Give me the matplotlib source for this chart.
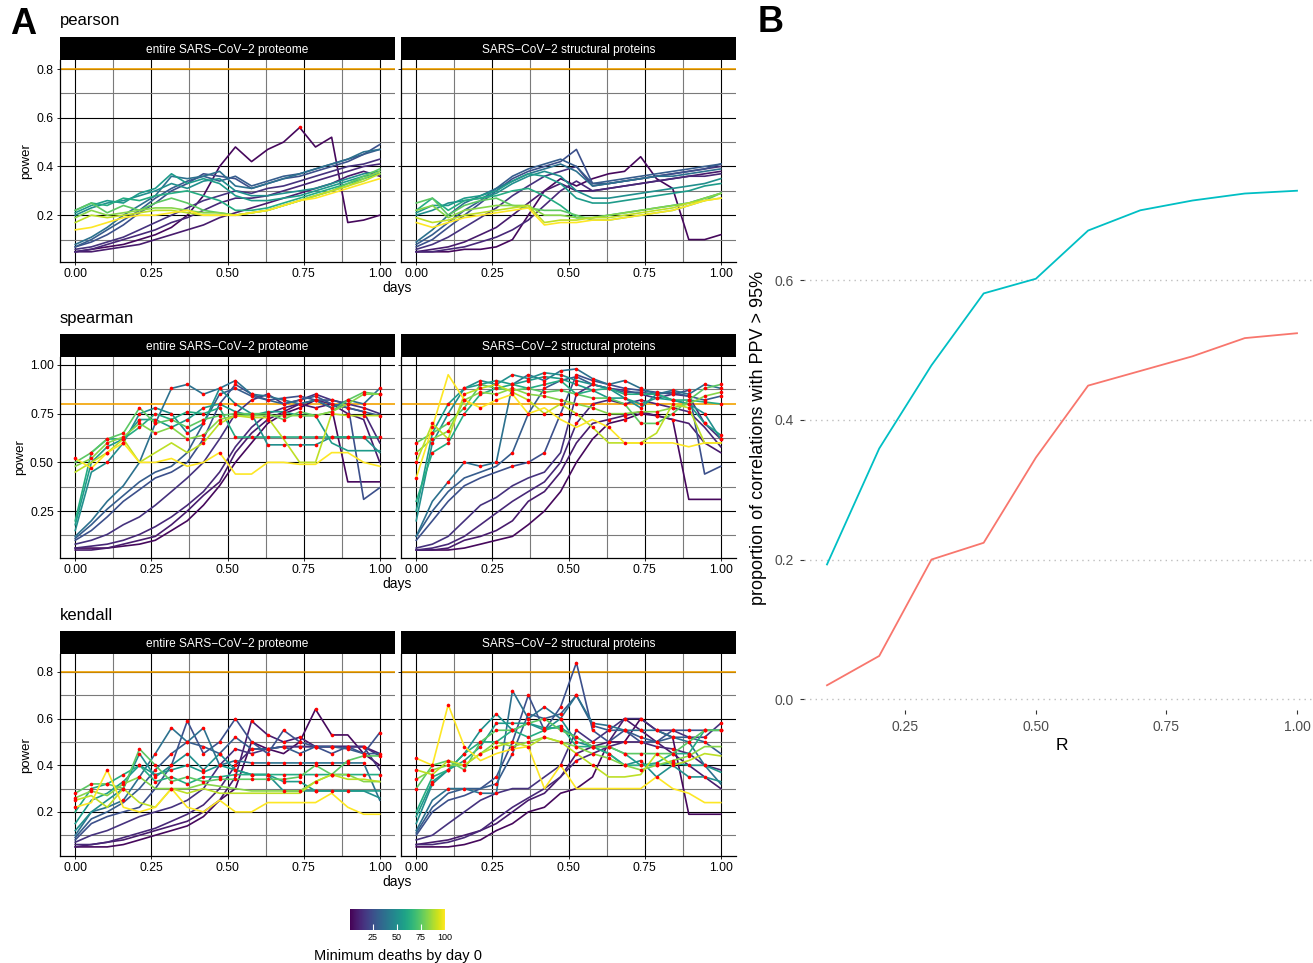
import numpy as np
import matplotlib.pyplot as plt
import matplotlib as mpl

plt.rcParams['font.family'] = ['Liberation Sans', 'DejaVu Sans']

W, H = 1313, 963

# ---------------- data ----------------
days = [0.00, 0.053, 0.105, 0.158, 0.211, 0.263, 0.316, 0.368, 0.421, 0.474,
        0.526, 0.579, 0.632, 0.684, 0.737, 0.789, 0.842, 0.895, 0.947, 1.00]
min_deaths = [3, 8, 12, 15, 25, 30, 38, 50, 55, 62, 75, 82, 90, 100]

pearson_all = [
    [0.05, 0.06, 0.07, 0.08, 0.10, 0.12, 0.15, 0.20, 0.28, 0.40, 0.48, 0.42, 0.47, 0.50, 0.56, 0.48, 0.52, 0.17, 0.18, 0.20],
    [0.05, 0.05, 0.06, 0.07, 0.08, 0.10, 0.12, 0.14, 0.16, 0.19, 0.21, 0.23, 0.25, 0.27, 0.29, 0.31, 0.33, 0.36, 0.38, 0.36],
    [0.05, 0.06, 0.08, 0.10, 0.12, 0.14, 0.17, 0.19, 0.22, 0.25, 0.27, 0.27, 0.28, 0.30, 0.32, 0.34, 0.36, 0.38, 0.40, 0.41],
    [0.06, 0.07, 0.09, 0.11, 0.14, 0.17, 0.20, 0.23, 0.26, 0.28, 0.30, 0.29, 0.31, 0.32, 0.34, 0.36, 0.38, 0.40, 0.41, 0.43],
    [0.07, 0.09, 0.12, 0.16, 0.21, 0.25, 0.30, 0.33, 0.37, 0.36, 0.35, 0.31, 0.33, 0.35, 0.36, 0.38, 0.40, 0.42, 0.45, 0.49],
    [0.07, 0.10, 0.14, 0.18, 0.22, 0.27, 0.31, 0.34, 0.36, 0.34, 0.36, 0.32, 0.34, 0.36, 0.37, 0.39, 0.41, 0.43, 0.45, 0.47],
    [0.08, 0.11, 0.15, 0.20, 0.24, 0.28, 0.36, 0.35, 0.36, 0.38, 0.32, 0.31, 0.33, 0.35, 0.37, 0.39, 0.41, 0.43, 0.46, 0.47],
    [0.20, 0.23, 0.25, 0.26, 0.28, 0.30, 0.33, 0.31, 0.34, 0.35, 0.30, 0.28, 0.28, 0.29, 0.30, 0.31, 0.33, 0.35, 0.37, 0.38],
    [0.21, 0.24, 0.26, 0.25, 0.29, 0.31, 0.37, 0.33, 0.35, 0.33, 0.28, 0.26, 0.26, 0.27, 0.28, 0.30, 0.32, 0.34, 0.36, 0.37],
    [0.22, 0.25, 0.24, 0.27, 0.26, 0.28, 0.29, 0.30, 0.28, 0.26, 0.22, 0.22, 0.23, 0.25, 0.27, 0.29, 0.31, 0.33, 0.35, 0.37],
    [0.22, 0.25, 0.21, 0.24, 0.22, 0.25, 0.27, 0.25, 0.22, 0.21, 0.20, 0.21, 0.22, 0.24, 0.26, 0.28, 0.30, 0.33, 0.36, 0.39],
    [0.19, 0.22, 0.20, 0.21, 0.22, 0.23, 0.23, 0.22, 0.21, 0.21, 0.20, 0.21, 0.22, 0.24, 0.26, 0.28, 0.30, 0.32, 0.35, 0.38],
    [0.17, 0.20, 0.19, 0.20, 0.21, 0.22, 0.22, 0.21, 0.20, 0.20, 0.20, 0.21, 0.22, 0.24, 0.26, 0.28, 0.30, 0.32, 0.34, 0.37],
    [0.14, 0.15, 0.17, 0.19, 0.20, 0.20, 0.21, 0.22, 0.20, 0.20, 0.20, 0.21, 0.22, 0.24, 0.26, 0.27, 0.29, 0.31, 0.33, 0.35],
]
pearson_struct = [
    [0.05, 0.05, 0.05, 0.06, 0.06, 0.07, 0.10, 0.20, 0.30, 0.35, 0.32, 0.35, 0.37, 0.38, 0.44, 0.35, 0.31, 0.10, 0.10, 0.12],
    [0.05, 0.06, 0.07, 0.09, 0.12, 0.15, 0.20, 0.25, 0.30, 0.33, 0.30, 0.30, 0.31, 0.32, 0.33, 0.34, 0.35, 0.36, 0.37, 0.38],
    [0.05, 0.05, 0.06, 0.07, 0.09, 0.11, 0.14, 0.18, 0.24, 0.30, 0.34, 0.30, 0.31, 0.32, 0.33, 0.34, 0.35, 0.36, 0.36, 0.37],
    [0.06, 0.08, 0.11, 0.15, 0.19, 0.23, 0.28, 0.32, 0.36, 0.38, 0.40, 0.32, 0.33, 0.34, 0.35, 0.36, 0.37, 0.38, 0.39, 0.40],
    [0.07, 0.10, 0.15, 0.20, 0.25, 0.30, 0.35, 0.38, 0.40, 0.42, 0.47, 0.33, 0.33, 0.34, 0.35, 0.36, 0.37, 0.38, 0.39, 0.41],
    [0.08, 0.12, 0.17, 0.22, 0.26, 0.31, 0.36, 0.39, 0.41, 0.43, 0.40, 0.33, 0.34, 0.35, 0.36, 0.37, 0.38, 0.39, 0.40, 0.41],
    [0.09, 0.14, 0.20, 0.25, 0.28, 0.31, 0.34, 0.37, 0.39, 0.41, 0.38, 0.32, 0.33, 0.34, 0.35, 0.36, 0.36, 0.37, 0.38, 0.39],
    [0.20, 0.22, 0.25, 0.26, 0.27, 0.29, 0.33, 0.36, 0.38, 0.36, 0.30, 0.27, 0.27, 0.28, 0.29, 0.30, 0.31, 0.32, 0.33, 0.35],
    [0.21, 0.24, 0.24, 0.27, 0.28, 0.30, 0.34, 0.37, 0.36, 0.33, 0.27, 0.25, 0.25, 0.26, 0.27, 0.28, 0.29, 0.30, 0.32, 0.33],
    [0.22, 0.27, 0.22, 0.26, 0.27, 0.28, 0.30, 0.31, 0.28, 0.24, 0.19, 0.19, 0.20, 0.21, 0.22, 0.23, 0.24, 0.25, 0.27, 0.29],
    [0.25, 0.27, 0.20, 0.24, 0.26, 0.27, 0.24, 0.23, 0.22, 0.22, 0.20, 0.18, 0.18, 0.19, 0.20, 0.21, 0.22, 0.24, 0.26, 0.29],
    [0.22, 0.24, 0.19, 0.22, 0.23, 0.24, 0.24, 0.24, 0.20, 0.20, 0.19, 0.19, 0.20, 0.21, 0.22, 0.23, 0.24, 0.25, 0.27, 0.29],
    [0.19, 0.17, 0.18, 0.20, 0.21, 0.22, 0.23, 0.24, 0.17, 0.18, 0.18, 0.19, 0.19, 0.20, 0.21, 0.22, 0.23, 0.25, 0.26, 0.27],
    [0.17, 0.15, 0.17, 0.19, 0.20, 0.21, 0.22, 0.23, 0.16, 0.17, 0.17, 0.18, 0.18, 0.19, 0.20, 0.21, 0.22, 0.24, 0.26, 0.27],
]
spearman_all = [
    [0.06, 0.06, 0.06, 0.07, 0.08, 0.10, 0.15, 0.20, 0.28, 0.38, 0.50, 0.60, 0.70, 0.75, 0.78, 0.82, 0.78, 0.40, 0.40, 0.40],
    [0.05, 0.05, 0.06, 0.08, 0.10, 0.12, 0.18, 0.25, 0.33, 0.40, 0.55, 0.65, 0.72, 0.76, 0.80, 0.78, 0.80, 0.75, 0.72, 0.50],
    [0.06, 0.07, 0.08, 0.10, 0.13, 0.17, 0.22, 0.28, 0.35, 0.45, 0.58, 0.68, 0.75, 0.78, 0.80, 0.82, 0.80, 0.78, 0.76, 0.60],
    [0.08, 0.10, 0.13, 0.18, 0.22, 0.28, 0.35, 0.42, 0.50, 0.62, 0.75, 0.82, 0.85, 0.80, 0.82, 0.85, 0.82, 0.80, 0.78, 0.75],
    [0.10, 0.15, 0.22, 0.30, 0.36, 0.42, 0.45, 0.50, 0.62, 0.80, 0.90, 0.85, 0.82, 0.83, 0.84, 0.82, 0.82, 0.80, 0.31, 0.37],
    [0.11, 0.18, 0.26, 0.33, 0.40, 0.45, 0.48, 0.55, 0.70, 0.85, 0.88, 0.84, 0.82, 0.80, 0.82, 0.84, 0.80, 0.78, 0.76, 0.74],
    [0.12, 0.20, 0.30, 0.38, 0.50, 0.70, 0.88, 0.90, 0.85, 0.88, 0.92, 0.85, 0.84, 0.82, 0.80, 0.82, 0.78, 0.82, 0.80, 0.88],
    [0.15, 0.45, 0.50, 0.60, 0.75, 0.78, 0.75, 0.65, 0.70, 0.88, 0.80, 0.75, 0.59, 0.59, 0.59, 0.59, 0.63, 0.63, 0.63, 0.55],
    [0.18, 0.50, 0.58, 0.62, 0.72, 0.72, 0.68, 0.72, 0.78, 0.80, 0.76, 0.74, 0.76, 0.76, 0.74, 0.74, 0.60, 0.56, 0.56, 0.56],
    [0.20, 0.55, 0.62, 0.62, 0.68, 0.75, 0.72, 0.76, 0.75, 0.78, 0.63, 0.63, 0.63, 0.63, 0.63, 0.63, 0.63, 0.63, 0.63, 0.63],
    [0.50, 0.55, 0.62, 0.65, 0.78, 0.70, 0.72, 0.68, 0.72, 0.74, 0.75, 0.75, 0.75, 0.72, 0.76, 0.74, 0.76, 0.82, 0.86, 0.85],
    [0.48, 0.52, 0.60, 0.63, 0.70, 0.65, 0.68, 0.62, 0.64, 0.72, 0.74, 0.74, 0.74, 0.74, 0.74, 0.74, 0.76, 0.80, 0.85, 0.85],
    [0.45, 0.50, 0.55, 0.62, 0.50, 0.55, 0.60, 0.55, 0.60, 0.70, 0.74, 0.73, 0.73, 0.62, 0.50, 0.50, 0.75, 0.74, 0.74, 0.74],
    [0.52, 0.47, 0.55, 0.60, 0.50, 0.50, 0.52, 0.48, 0.50, 0.55, 0.44, 0.44, 0.50, 0.50, 0.49, 0.49, 0.55, 0.55, 0.50, 0.48],
]
spearman_struct = [
    [0.05, 0.05, 0.05, 0.06, 0.08, 0.10, 0.12, 0.18, 0.25, 0.35, 0.50, 0.62, 0.70, 0.72, 0.75, 0.74, 0.72, 0.31, 0.31, 0.31],
    [0.05, 0.05, 0.06, 0.10, 0.12, 0.15, 0.20, 0.30, 0.35, 0.45, 0.60, 0.70, 0.72, 0.74, 0.76, 0.74, 0.72, 0.70, 0.60, 0.55],
    [0.05, 0.06, 0.08, 0.12, 0.18, 0.24, 0.30, 0.35, 0.40, 0.50, 0.70, 0.80, 0.82, 0.80, 0.82, 0.80, 0.78, 0.76, 0.68, 0.58],
    [0.06, 0.08, 0.12, 0.20, 0.28, 0.32, 0.38, 0.42, 0.45, 0.55, 0.85, 0.90, 0.88, 0.87, 0.85, 0.83, 0.85, 0.84, 0.70, 0.62],
    [0.10, 0.20, 0.30, 0.38, 0.42, 0.45, 0.48, 0.50, 0.55, 0.75, 0.95, 0.92, 0.90, 0.88, 0.87, 0.86, 0.85, 0.87, 0.44, 0.48],
    [0.12, 0.25, 0.35, 0.42, 0.45, 0.48, 0.55, 0.75, 0.88, 0.92, 0.94, 0.90, 0.88, 0.86, 0.86, 0.85, 0.86, 0.84, 0.82, 0.84],
    [0.12, 0.30, 0.40, 0.50, 0.48, 0.50, 0.90, 0.95, 0.92, 0.97, 0.98, 0.93, 0.90, 0.92, 0.88, 0.85, 0.87, 0.85, 0.90, 0.88],
    [0.20, 0.60, 0.75, 0.88, 0.92, 0.90, 0.95, 0.93, 0.96, 0.95, 0.92, 0.90, 0.88, 0.83, 0.78, 0.85, 0.82, 0.80, 0.75, 0.62],
    [0.25, 0.65, 0.80, 0.88, 0.90, 0.92, 0.90, 0.92, 0.94, 0.93, 0.90, 0.87, 0.83, 0.83, 0.80, 0.83, 0.82, 0.80, 0.70, 0.64],
    [0.30, 0.55, 0.60, 0.75, 0.85, 0.88, 0.90, 0.88, 0.90, 0.92, 0.85, 0.87, 0.88, 0.85, 0.85, 0.85, 0.82, 0.82, 0.81, 0.80],
    [0.60, 0.65, 0.70, 0.78, 0.90, 0.88, 0.87, 0.88, 0.86, 0.87, 0.85, 0.83, 0.83, 0.80, 0.70, 0.70, 0.75, 0.82, 0.88, 0.90],
    [0.55, 0.62, 0.66, 0.82, 0.86, 0.85, 0.88, 0.85, 0.84, 0.82, 0.80, 0.78, 0.75, 0.75, 0.76, 0.76, 0.78, 0.80, 0.84, 0.86],
    [0.50, 0.70, 0.62, 0.85, 0.88, 0.90, 0.86, 0.82, 0.75, 0.80, 0.75, 0.68, 0.60, 0.60, 0.60, 0.65, 0.80, 0.78, 0.60, 0.60],
    [0.42, 0.68, 0.95, 0.82, 0.78, 0.82, 0.85, 0.75, 0.78, 0.72, 0.68, 0.72, 0.68, 0.60, 0.60, 0.60, 0.60, 0.58, 0.60, 0.60],
]
kendall_all = [
    [0.05, 0.05, 0.05, 0.06, 0.08, 0.10, 0.12, 0.14, 0.18, 0.25, 0.30, 0.50, 0.47, 0.45, 0.50, 0.64, 0.53, 0.53, 0.45, 0.40],
    [0.05, 0.06, 0.07, 0.08, 0.10, 0.12, 0.14, 0.16, 0.20, 0.25, 0.35, 0.59, 0.53, 0.50, 0.52, 0.48, 0.48, 0.48, 0.48, 0.45],
    [0.06, 0.06, 0.07, 0.09, 0.11, 0.13, 0.16, 0.19, 0.23, 0.30, 0.40, 0.47, 0.47, 0.48, 0.48, 0.48, 0.48, 0.48, 0.48, 0.44],
    [0.07, 0.10, 0.12, 0.15, 0.18, 0.20, 0.22, 0.25, 0.30, 0.40, 0.47, 0.45, 0.47, 0.48, 0.48, 0.48, 0.48, 0.48, 0.48, 0.38],
    [0.08, 0.15, 0.18, 0.20, 0.22, 0.30, 0.40, 0.59, 0.45, 0.50, 0.60, 0.50, 0.45, 0.55, 0.50, 0.48, 0.45, 0.48, 0.45, 0.54],
    [0.09, 0.17, 0.20, 0.24, 0.30, 0.38, 0.45, 0.50, 0.48, 0.45, 0.52, 0.47, 0.47, 0.48, 0.45, 0.48, 0.48, 0.47, 0.45, 0.45],
    [0.10, 0.20, 0.22, 0.25, 0.35, 0.45, 0.56, 0.50, 0.56, 0.40, 0.42, 0.41, 0.41, 0.41, 0.41, 0.41, 0.41, 0.41, 0.41, 0.25],
    [0.12, 0.20, 0.25, 0.30, 0.45, 0.35, 0.40, 0.45, 0.38, 0.45, 0.38, 0.36, 0.36, 0.29, 0.29, 0.29, 0.29, 0.29, 0.29, 0.26],
    [0.15, 0.25, 0.28, 0.33, 0.40, 0.36, 0.38, 0.40, 0.37, 0.40, 0.38, 0.36, 0.36, 0.33, 0.33, 0.29, 0.29, 0.29, 0.29, 0.29],
    [0.20, 0.30, 0.32, 0.36, 0.40, 0.33, 0.35, 0.32, 0.35, 0.35, 0.36, 0.36, 0.36, 0.36, 0.36, 0.36, 0.36, 0.36, 0.36, 0.36],
    [0.28, 0.32, 0.32, 0.30, 0.47, 0.40, 0.33, 0.35, 0.33, 0.34, 0.34, 0.34, 0.34, 0.34, 0.35, 0.40, 0.36, 0.42, 0.44, 0.44],
    [0.26, 0.29, 0.27, 0.32, 0.35, 0.30, 0.30, 0.30, 0.32, 0.31, 0.30, 0.29, 0.29, 0.29, 0.29, 0.33, 0.36, 0.36, 0.33, 0.33],
    [0.25, 0.27, 0.22, 0.30, 0.24, 0.22, 0.30, 0.28, 0.30, 0.28, 0.28, 0.28, 0.28, 0.28, 0.28, 0.33, 0.36, 0.34, 0.34, 0.33],
    [0.22, 0.24, 0.38, 0.22, 0.20, 0.22, 0.30, 0.22, 0.20, 0.25, 0.20, 0.20, 0.24, 0.24, 0.24, 0.24, 0.28, 0.22, 0.19, 0.19],
]
kendall_struct = [
    [0.05, 0.05, 0.05, 0.06, 0.08, 0.12, 0.15, 0.20, 0.22, 0.28, 0.30, 0.35, 0.50, 0.50, 0.60, 0.55, 0.52, 0.19, 0.19, 0.19],
    [0.06, 0.07, 0.08, 0.10, 0.12, 0.15, 0.20, 0.25, 0.28, 0.35, 0.45, 0.48, 0.50, 0.60, 0.55, 0.50, 0.45, 0.40, 0.35, 0.30],
    [0.06, 0.06, 0.07, 0.09, 0.12, 0.17, 0.22, 0.26, 0.30, 0.35, 0.42, 0.45, 0.48, 0.50, 0.50, 0.48, 0.47, 0.45, 0.40, 0.38],
    [0.08, 0.10, 0.15, 0.20, 0.25, 0.28, 0.30, 0.30, 0.35, 0.40, 0.55, 0.50, 0.55, 0.60, 0.60, 0.55, 0.55, 0.52, 0.52, 0.58],
    [0.10, 0.20, 0.25, 0.27, 0.30, 0.35, 0.50, 0.70, 0.55, 0.65, 0.84, 0.55, 0.50, 0.55, 0.50, 0.50, 0.55, 0.55, 0.55, 0.55],
    [0.11, 0.22, 0.28, 0.30, 0.30, 0.32, 0.45, 0.62, 0.60, 0.62, 0.70, 0.57, 0.55, 0.55, 0.52, 0.50, 0.52, 0.52, 0.50, 0.45],
    [0.12, 0.25, 0.30, 0.30, 0.28, 0.28, 0.72, 0.60, 0.65, 0.60, 0.70, 0.58, 0.57, 0.55, 0.55, 0.55, 0.52, 0.50, 0.40, 0.32],
    [0.15, 0.32, 0.38, 0.45, 0.55, 0.62, 0.55, 0.58, 0.55, 0.60, 0.50, 0.48, 0.45, 0.40, 0.42, 0.35, 0.40, 0.35, 0.35, 0.33],
    [0.18, 0.33, 0.38, 0.42, 0.48, 0.58, 0.58, 0.58, 0.56, 0.56, 0.52, 0.48, 0.48, 0.45, 0.40, 0.40, 0.41, 0.40, 0.40, 0.37],
    [0.20, 0.35, 0.38, 0.45, 0.50, 0.50, 0.55, 0.52, 0.55, 0.57, 0.48, 0.48, 0.45, 0.40, 0.40, 0.41, 0.45, 0.45, 0.55, 0.55],
    [0.30, 0.40, 0.42, 0.38, 0.50, 0.55, 0.55, 0.58, 0.60, 0.55, 0.52, 0.48, 0.48, 0.45, 0.45, 0.45, 0.45, 0.50, 0.55, 0.55],
    [0.34, 0.38, 0.40, 0.40, 0.45, 0.50, 0.48, 0.50, 0.52, 0.50, 0.48, 0.45, 0.43, 0.40, 0.38, 0.40, 0.42, 0.44, 0.48, 0.48],
    [0.38, 0.36, 0.42, 0.40, 0.45, 0.48, 0.50, 0.48, 0.52, 0.50, 0.45, 0.40, 0.35, 0.35, 0.36, 0.45, 0.40, 0.42, 0.45, 0.44],
    [0.43, 0.40, 0.66, 0.48, 0.42, 0.45, 0.47, 0.48, 0.30, 0.40, 0.30, 0.30, 0.30, 0.30, 0.30, 0.35, 0.30, 0.28, 0.24, 0.24],
]

# indices of the points flagged in red on each line
pearson_all_red = [[14]] + [[] for _ in range(13)]
pearson_struct_red = [[] for _ in range(14)]
spearman_all_red = [
    [13, 14, 15, 16], [12, 13, 14, 15, 16, 17], [13, 14, 15, 16, 17, 18], list(range(10, 19)),
    list(range(8, 18)), list(range(8, 20)), list(range(5, 20)), list(range(2, 19)),
    list(range(2, 16)), list(range(1, 20)), list(range(1, 20)), list(range(1, 20)),
    [2, 3, 8, 9, 10, 11, 12, 16, 17, 18], [0, 1, 2, 3, 9],
]
spearman_struct_red = [
    [13, 14, 15], [12, 13, 14, 15, 16], list(range(10, 18)), list(range(10, 20)),
    list(range(6, 18)), list(range(6, 20)), list(range(2, 20)), list(range(1, 20)),
    list(range(1, 20)), list(range(1, 20)), list(range(0, 20)), list(range(0, 20)),
    list(range(0, 12)) + [16, 17], [0, 1, 3, 4, 5, 6, 12, 13, 14],
]
kendall_all_red = [
    [14, 15, 16], list(range(11, 19)), list(range(10, 19)), list(range(9, 19)),
    list(range(6, 20)), list(range(5, 20)), list(range(3, 19)), list(range(3, 18)),
    list(range(3, 16)), list(range(1, 20)), list(range(0, 20)), [0, 1, 3, 4, 15, 16],
    [0, 3, 6], [0, 2, 6],
]
kendall_struct_red = [
    [13, 14], [11, 12, 13, 14], list(range(10, 18)), list(range(9, 20)),
    list(range(5, 20)), list(range(5, 19)), list(range(2, 19)), list(range(1, 19)),
    list(range(1, 19)), list(range(1, 20)), list(range(0, 20)), list(range(0, 18)),
    list(range(0, 12)), [0, 1, 2, 3, 6],
]

# panel B
r_vals = [0.1, 0.2, 0.3, 0.4, 0.5, 0.6, 0.7, 0.8, 0.9, 1.0]
ppv_cyan = [0.193, 0.359, 0.478, 0.581, 0.602, 0.671, 0.700, 0.714, 0.724, 0.728]
ppv_red = [0.020, 0.062, 0.200, 0.224, 0.346, 0.449, 0.470, 0.491, 0.517, 0.524]

facet_names = ['entire SARS\u2212CoV\u22122 proteome', 'SARS\u2212CoV\u22122 structural proteins']

# ---------------- figure ----------------
fig = plt.figure(figsize=(W / 100, H / 100), dpi=100)
cmap = mpl.colormaps['viridis']
norm = mpl.colors.Normalize(vmin=1, vmax=100)


def px_axes(x0, y0, x1, y1):
    return fig.add_axes([x0 / W, 1 - y1 / H, (x1 - x0) / W, (y1 - y0) / H])


def draw_facet(ax, lines, reds, ylim, yticks, ylabels, yminor, first):
    ax.set_xlim(-0.05, 1.05)
    ax.set_ylim(*ylim)
    ax.set_xticks([0, 0.25, 0.5, 0.75, 1.0])
    ax.set_xticklabels(['0.00', '0.25', '0.50', '0.75', '1.00'])
    ax.set_xticks([0.125, 0.375, 0.625, 0.875], minor=True)
    ax.set_yticks(yticks)
    ax.set_yticks(yminor, minor=True)
    if first:
        ax.set_yticklabels(ylabels)
        ax.set_ylabel('power', fontsize=9.5, labelpad=3)
    else:
        ax.set_yticklabels([])
    ax.tick_params(which='major', length=2.5, width=0.6, labelsize=8.8, pad=2, colors='black')
    ax.tick_params(which='minor', length=0)
    ax.grid(which='major', color='black', lw=0.8)
    ax.grid(which='minor', color='#7a7a7a', lw=0.8)
    ax.set_axisbelow(True)
    for s in ['top', 'right']:
        ax.spines[s].set_visible(False)
    for s in ['left', 'bottom']:
        ax.spines[s].set_linewidth(0.9)
    ax.axhline(0.8, color='#F2A200', lw=1.2, zorder=1.6)
    for vals, d in zip(lines, min_deaths):
        ax.plot(days, vals, color=cmap(norm(d)), lw=1.2, zorder=2)
    for vals, idx in zip(lines, reds):
        if idx:
            ax.plot([days[i] for i in idx], [vals[i] for i in idx], 'o',
                    color='red', ms=2.6, mew=0, zorder=3)


rows = [
    ('pearson', 60, 262, (pearson_all, pearson_struct), (pearson_all_red, pearson_struct_red),
     (0.008, 0.837), [0.2, 0.4, 0.6, 0.8], ['0.2', '0.4', '0.6', '0.8'], [0.1, 0.3, 0.5, 0.7]),
    ('spearman', 357, 558, (spearman_all, spearman_struct), (spearman_all_red, spearman_struct_red),
     (0.009, 1.041), [0.25, 0.5, 0.75, 1.0], ['0.25', '0.50', '0.75', '1.00'], [0.125, 0.375, 0.625, 0.875]),
    ('kendall', 654, 856, (kendall_all, kendall_struct), (kendall_all_red, kendall_struct_red),
     (0.011, 0.877), [0.2, 0.4, 0.6, 0.8], ['0.2', '0.4', '0.6', '0.8'], [0.1, 0.3, 0.5, 0.7]),
]

for title, top, bot, data, reds, ylim, yt, yl, ym in rows:
    fig.text(60 / W, 1 - (top - 39) / H, title, fontsize=12, va='center', ha='left')
    for j, (x0, x1) in enumerate([(60, 395), (401, 736)]):
        ax = px_axes(x0, top, x1, bot)
        draw_facet(ax, data[j], reds[j], ylim, yt, yl, ym, j == 0)
        strip = px_axes(x0, top - 23, x1, top)
        strip.set_facecolor('black')
        strip.set_xticks([])
        strip.set_yticks([])
        for s in strip.spines.values():
            s.set_visible(False)
        strip.text(0.5, 0.45, facet_names[j], color='white', fontsize=8.6,
                   ha='center', va='center', transform=strip.transAxes)
    fig.text(397 / W, 1 - (bot + 26) / H, 'days', fontsize=10, ha='center', va='center')

fig.text(10 / W, 1 - 24 / H, 'A', fontsize=26, fontweight='bold', va='center', ha='left')

# colour bar
cax = px_axes(350, 909, 445, 930)
cb = mpl.colorbar.ColorbarBase(cax, cmap=cmap, norm=norm, orientation='horizontal')
cb.set_ticks([25, 50, 75, 100])
cb.outline.set_visible(False)
cax.tick_params(length=4, width=0.8, color='white', direction='in', labelsize=6.5, pad=2)
cax.set_xlabel('Minimum deaths by day 0', fontsize=10.5, labelpad=5)

# ---------------- panel B ----------------
axb = px_axes(803.5, 166, 1320.5, 710)
axb.plot(r_vals, ppv_cyan, color='#00BFC4', lw=1.3)
axb.plot(r_vals, ppv_red, color='#F8766D', lw=1.3)
axb.set_xlim(0.055, 1.045)
axb.set_ylim(-0.0154, 0.7634)
axb.set_xticks([0.25, 0.5, 0.75, 1.0])
axb.set_xticklabels(['0.25', '0.50', '0.75', '1.00'])
axb.set_yticks([0.0, 0.2, 0.4, 0.6])
axb.set_yticklabels(['0.0', '0.2', '0.4', '0.6'])
axb.tick_params(length=3, width=0.8, color='#333333', labelcolor='#4D4D4D', labelsize=10, pad=4)
for s in axb.spines.values():
    s.set_visible(False)
axb.grid(axis='y', color='#BEBEBE', lw=1.0, linestyle=(0, (1, 3)))
axb.set_axisbelow(True)
axb.set_xlabel('R', fontsize=12.5, labelpad=3)
axb.set_ylabel('proportion of correlations with PPV > 95%', fontsize=13, labelpad=5)
fig.text(758 / W, 1 - 23 / H, 'B', fontsize=26, fontweight='bold', va='center', ha='left')

fig.savefig('out.png', dpi=100)
